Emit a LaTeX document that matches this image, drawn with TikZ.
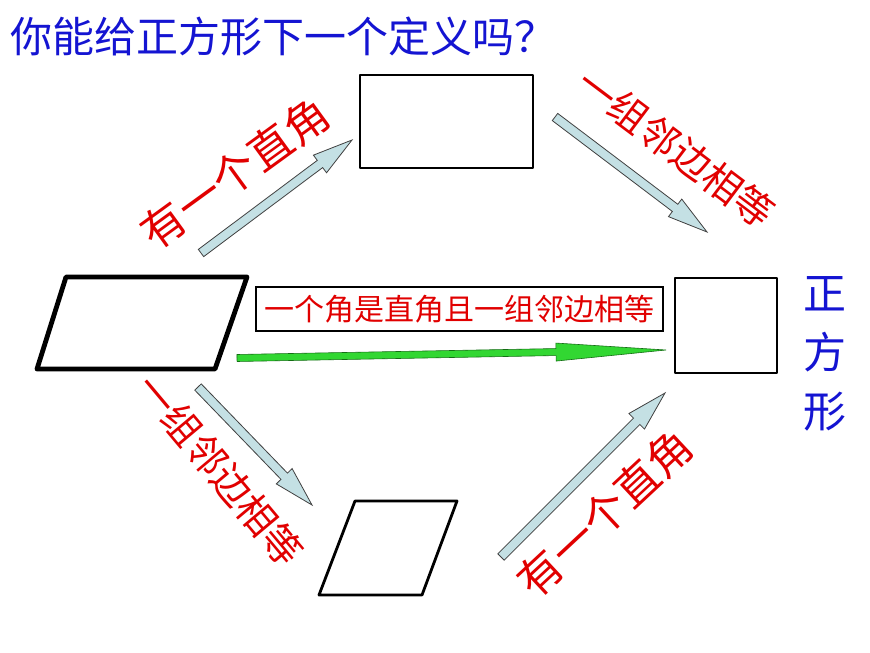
\documentclass[tikz,border=0pt]{standalone}
\usepackage{fontspec}
\newfontfamily\cjk{Noto Sans CJK SC}
\usetikzlibrary{calc}
\definecolor{tblue}{RGB}{20,20,210}
\definecolor{tred}{RGB}{225,0,0}
\definecolor{afill}{RGB}{196,224,228}
\definecolor{gfill}{RGB}{50,215,50}
\definecolor{gline}{RGB}{20,110,20}
\tikzset{
  shapeline/.style={draw=black, line width=2.8pt, line join=round},
  thickline/.style={draw=black, line width=4.8pt, line join=round},
  bluearrow/.style={fill=afill, draw=black!75, line width=0.8pt, line join=miter},
  greenarrow/.style={fill=gfill, draw=gline, line width=0.6pt, line join=miter},
  redlabel/.style={text=tred, inner sep=0pt},
}
\newcommand\blockarr[6][]{%
  \draw[#1] let \p1=(#2), \p2=(#3),
    \n1={atan2(\y2-\y1,\x2-\x1)},
    \n2={veclen(\x2-\x1,\y2-\y1)-#6} in
    ($(\p1)+(\n1+90:#4)$) -- ($(\p1)+(\n1:\n2)+(\n1+90:#4)$) --
    ($(\p1)+(\n1:\n2)+(\n1+90:#5)$) -- (\p2) --
    ($(\p1)+(\n1:\n2)+(\n1-90:#5)$) -- ($(\p1)+(\n1:\n2)+(\n1-90:#4)$) --
    ($(\p1)+(\n1-90:#4)$) -- cycle;}
\begin{document}
\begin{tikzpicture}[x=1pt,y=-1pt]
\useasboundingbox (0,0) rectangle (870,653);
\fill[white] (0,0) rectangle (870,653);

% title
\node[anchor=west, inner sep=0pt, text=tblue, font=\cjk\fontsize{42}{50}\selectfont] (title) at (10,37) {你能给正方形下一个定义吗？};

% shapes
\node[shapeline, minimum width=173pt, minimum height=93pt, inner sep=0pt] (rect) at (446.5,121.5) {};
\node[shapeline, minimum width=102pt, minimum height=95pt, inner sep=0pt] (sq) at (726,325.5) {};
\draw[thickline] (66,277) coordinate (pa1) -- (247,277) coordinate (pa2) -- (215,369) coordinate (pa3) -- (37,369) coordinate (pa4) -- cycle;
\draw[shapeline] (355,501) coordinate (rh1) -- (457,501) coordinate (rh2) -- (422,595) coordinate (rh3) -- (319,595) coordinate (rh4) -- cycle;

% condition box
\node[draw=black, line width=2.6pt, minimum width=407pt, minimum height=44pt, inner sep=0pt, text=tred, font=\cjk\fontsize{30}{36}\selectfont] (cond) at (459.5,309) {一个角是直角且一组邻边相等};

% name
\node[text=tblue, align=center, inner sep=0pt, font=\cjk\fontsize{43}{59}\selectfont] (name) at (825,354) {正\\方\\形};

% arrow end points
\coordinate (ulT) at (201,253); \coordinate (ulH) at (352,140);
\coordinate (urT) at (555,117); \coordinate (urH) at (707,232);
\coordinate (llT) at (198,387); \coordinate (llH) at (312,505);
\coordinate (lrT) at (501,557); \coordinate (lrH) at (665,393);
\coordinate (gT) at (237,358);  \coordinate (gH) at (666,350);

\blockarr[bluearrow]{ulT}{ulH}{4.5pt}{11pt}{40pt}
\blockarr[bluearrow]{urT}{urH}{4.5pt}{11pt}{40pt}
\blockarr[bluearrow]{llT}{llH}{4.5pt}{11pt}{40pt}
\blockarr[bluearrow]{lrT}{lrH}{4.5pt}{11pt}{40pt}
\blockarr[greenarrow]{gT}{gH}{3.5pt}{9pt}{110pt}

% labels
\node[redlabel, rotate=36, font=\cjk\fontsize{44}{50}\selectfont] (l1) at (235,173) {有一个直角};
\node[redlabel, rotate=-37, font=\cjk\fontsize{39}{45}\selectfont] (l2) at (676,148) {一组邻边相等};
\node[redlabel, rotate=-50, font=\cjk\fontsize{39}{45}\selectfont] (l3) at (220,470) {一组邻边相等};
\node[redlabel, rotate=43, font=\cjk\fontsize{44}{50}\selectfont] (l4) at (605,513) {有一个直角};
\end{tikzpicture}
\end{document}
